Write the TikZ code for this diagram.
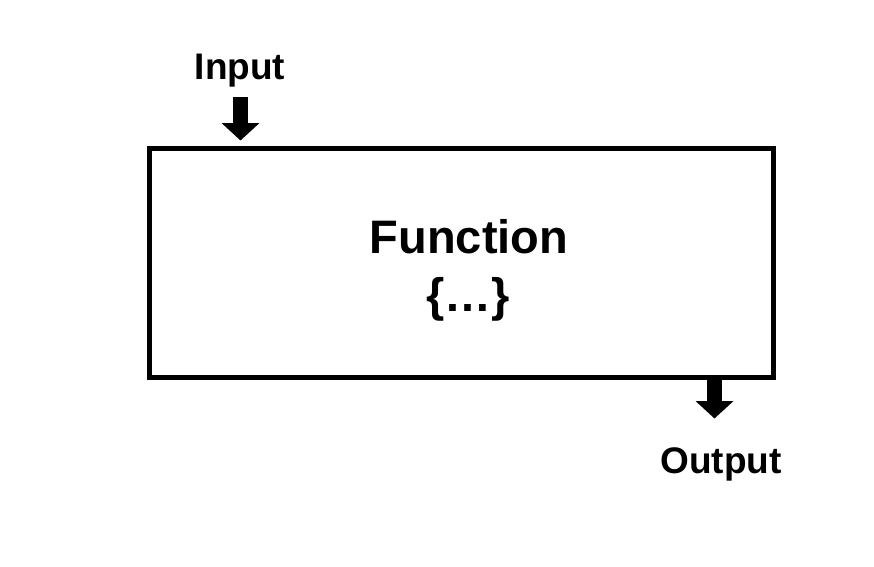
\documentclass[tikz,border=0pt]{standalone}
\usepackage{fontspec}
\setmainfont{Liberation Sans}
\usetikzlibrary{arrows.meta}
\begin{document}
\begin{tikzpicture}[x=1pt,y=-1pt,
  lbl/.style={font=\bfseries\fontsize{37}{37}\selectfont, inner sep=0pt, anchor=base},
  big/.style={font=\bfseries\fontsize{47}{47}\selectfont, inner sep=0pt, anchor=base},
  fatarrow/.style={line width=14.5pt, -{Triangle[width=37pt,length=17.5pt]}}]
\useasboundingbox (0,0) rectangle (874,566);
\draw[line width=5pt] (149.5,148) rectangle (773.5,377.5);
\node[lbl] (in) at (240,79) {Input};
\node[lbl] (out) at (721,473) {Output};
\node[big] (fn) at (469,253) {Function};
\node[big] (dots) at (468,311) {\{\dots\}};
\coordinate (inS) at (240.5,97);
\coordinate (inT) at (240.5,140.5);
\coordinate (outS) at (714.5,378);
\coordinate (outT) at (714.5,418.5);
\draw[fatarrow] (inS) -- (inT);
\draw[fatarrow] (outS) -- (outT);
\end{tikzpicture}
\end{document}
